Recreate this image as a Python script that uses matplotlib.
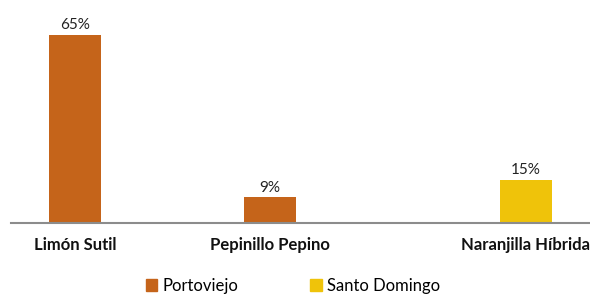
import matplotlib
matplotlib.use("Agg")
import matplotlib.pyplot as plt
import numpy as np

# Data
categories = ["Limón Sutil", "Pepinillo Pepino", "Naranjilla Híbrida"]
series_names = ["Portoviejo", "Santo Domingo"]
portoviejo = [65, 9, None]
santo_domingo = [None, None, 15]

colors = ["#C5641A", "#EFC30A"]

plt.rcParams['font.family'] = ['Lato', 'DejaVu Sans']

fig = plt.figure(figsize=(5.9, 2.96), dpi=100)
ax = fig.add_axes([11 / 590, (296 - 223) / 296, 1 - 11 / 590, 223 / 296])

x = np.arange(len(categories))
offset = 0.156
width = 0.265

tick_pos = []
for i, cat in enumerate(categories):
    for j, vals in enumerate([portoviejo, santo_domingo]):
        v = vals[i]
        if v is None:
            continue
        pos = x[i] + (offset if j == 1 else -offset)
        ax.bar(pos, v, width=width, color=colors[j])
        ax.text(pos, v + 0.8, f"{v}%", ha="center", va="bottom", fontsize=11, color="#222222")
        tick_pos.append(pos)

ax.set_xlim(-0.485, 2.485)
ax.set_ylim(0, 223 / 2.9)

ax.set_xticks(tick_pos)
ax.set_xticklabels(categories, fontsize=12, fontweight="bold", color="#111111")
ax.tick_params(axis="x", length=0, pad=10)
ax.set_yticks([])

for s in ["top", "right", "left"]:
    ax.spines[s].set_visible(False)
ax.spines["bottom"].set_color("#8C8C8C")
ax.spines["bottom"].set_linewidth(1.5)

handles = [plt.Rectangle((0, 0), 1, 1, color=c) for c in colors]
fig.legend(handles, series_names, loc="center", bbox_to_anchor=(0.496, 0.035),
           ncol=2, frameon=False, fontsize=12, handlelength=0.7, handleheight=0.7,
           handletextpad=0.3, columnspacing=4.3)

fig.savefig("out.png", dpi=100)
